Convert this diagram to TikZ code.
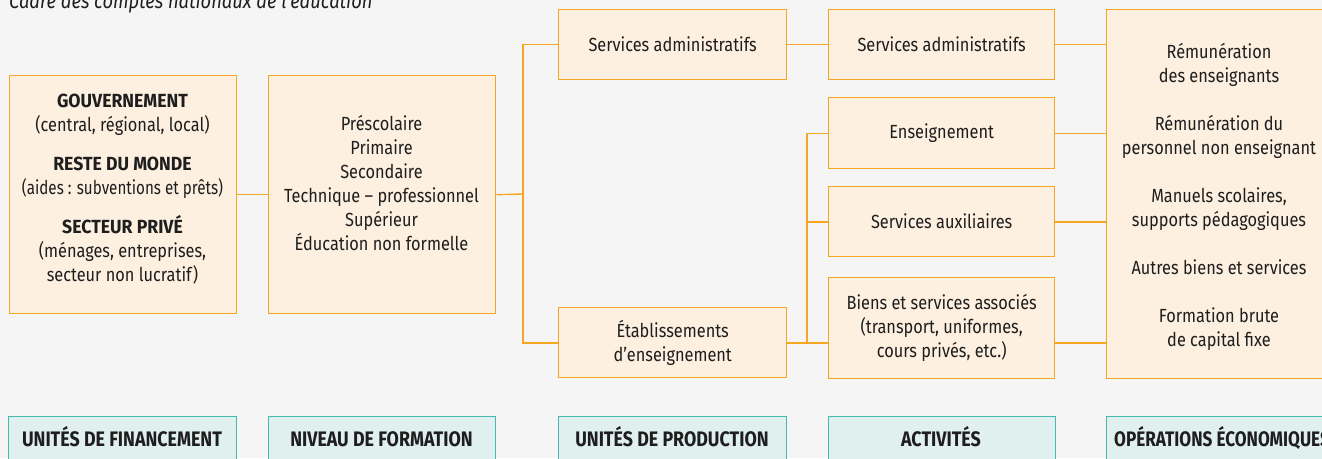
\documentclass[tikz,border=0pt]{standalone}
\usepackage{graphicx}
\usepackage{fontspec}
\setmainfont{Fira Sans}[FakeStretch=0.86]
\newfontfamily\lblfont{Fira Sans}[FakeStretch=0.85]
\newfontfamily\hdfont{Fira Sans}[FakeStretch=0.93]
\definecolor{bgcol}{HTML}{F5F5F5}
\definecolor{peach}{HTML}{FDF0E0}
\definecolor{orng}{HTML}{F5A623}
\definecolor{tealfill}{HTML}{E0F0EF}
\definecolor{tealline}{HTML}{45B8AF}
\definecolor{ink}{HTML}{1E1E1E}
\newcommand{\hd}[1]{{\hdfont\bfseries\fontsize{19}{24}\selectfont #1}}
\begin{document}
\begin{tikzpicture}[x=1pt,y=-1pt,
  obox/.style={draw=orng, fill=peach, line width=1.4pt, rectangle, inner sep=0pt, anchor=north west, text=ink, align=center, font=\fontsize{19}{24}\selectfont},
  lbox/.style={draw=tealline, fill=tealfill, line width=1.4pt, rectangle, inner sep=0pt, anchor=north west, minimum height=60pt},
  lbltxt/.style={text=ink, font=\lblfont\bfseries\fontsize{21}{24}\selectfont, inner sep=0pt},
  txt/.style={text=ink, align=center, inner sep=0pt, font=\fontsize{19}{24}\selectfont},
  conn/.style={draw=orng, line width=1.4pt}]
\useasboundingbox (0,0) rectangle (1322,458);
\clip (0,0) rectangle (1322,458);
\fill[bgcol] (0,0) rectangle (1322,458);

% title
\node[anchor=base west, inner sep=0pt, text=ink, font=\itshape\fontsize{21.3}{24}\selectfont] (title) at (9,8) {Cadre des comptes nationaux de l’éducation};

% column 1
\node[obox, minimum width=227pt, minimum height=238pt] (b1) at (9,75) {};
\node[txt] (b1t) at (122.5,189.5) {\hd{GOUVERNEMENT}\\(central, régional, local)\\[15pt]
\hd{RESTE DU MONDE}\\\scalebox{0.93}[1]{(aides : subventions et prêts)}\\[15pt]
\hd{SECTEUR PRIVÉ}\\(ménages, entreprises,\\secteur non lucratif)};

% column 2
\node[obox, minimum width=227pt, minimum height=238pt] (b2) at (268,75) {};
\node[txt] (b2t) at (381.5,183.5) {Préscolaire\\Primaire\\Secondaire\\Technique – professionnel\\Supérieur\\Éducation non formelle};

% column 3
\node[obox, minimum width=228pt, minimum height=70pt] (b3a) at (558,9) {Services administratifs};
\node[obox, minimum width=228pt, minimum height=70pt] (b3b) at (558,307) {Établissements\\d’enseignement};

% column 4
\node[obox, minimum width=226pt, minimum height=70pt] (b4a) at (828,9) {Services administratifs};
\node[obox, minimum width=226pt, minimum height=71pt] (b4b) at (828,97) {Enseignement};
\node[obox, minimum width=226pt, minimum height=70pt] (b4c) at (828,186) {Services auxiliaires};
\node[obox, minimum width=226pt, minimum height=101pt] (b4d) at (828,277) {Biens et services associés\\(transport, uniformes,\\cours privés, etc.)};

% column 5
\node[obox, minimum width=227pt, minimum height=369pt] (b5) at (1106,9) {};
\node[txt] (b5t) at (1219,196.5) {Rémunération\\des enseignants\\[24pt]Rémunération du\\personnel non enseignant\\[24pt]Manuels scolaires,\\supports pédagogiques\\[24pt]Autres biens et services\\[24pt]Formation brute\\de capital fixe};

% connectors
\coordinate (jA) at (523,194);
\coordinate (jB) at (807,343);
\draw[conn] (b1.east) -- (b2.west);
\draw[conn] (b2.east) -- (jA);
\draw[conn] (b3a.west) -| (jA) |- (b3b.west |- jB);
\draw[conn] (b3a.east) -- (b4a.west);
\draw[conn] (b3b.east |- jB) -- (b4d.west |- jB);
\draw[conn] (b4b.west) -| (jB);
\draw[conn] (b4c.west |- 0,222) -- (jB |- 0,222);
\draw[conn] (b4a.east) -- (b5.west |- b4a.east);
\draw[conn] (b4b.east) -- (b5.west |- b4b.east);
\draw[conn] (b4c.east |- 0,222) -- (b5.west |- 0,222);
\draw[conn] (b4d.east |- jB) -- (b5.west |- jB);

% bottom labels
\node[lbox, minimum width=228pt] (l1) at (8,416) {};
\node[lbox, minimum width=227pt] (l2) at (268,416) {};
\node[lbox, minimum width=228pt] (l3) at (558,416) {};
\node[lbox, minimum width=227pt] (l4) at (828,416) {};
\node[lbox, minimum width=227pt] (l5) at (1106,416) {};
\node[lbltxt, anchor=base] (l1t) at (122,446) {UNITÉS DE FINANCEMENT};
\node[lbltxt, anchor=base] (l2t) at (381.5,446) {NIVEAU DE FORMATION};
\node[lbltxt, anchor=base] (l3t) at (672,446) {UNITÉS DE PRODUCTION};
\node[lbltxt, anchor=base] (l4t) at (941,446) {ACTIVITÉS};
\node[lbltxt, anchor=base] (l5t) at (1222,446) {\scalebox{0.96}[1]{OPÉRATIONS ÉCONOMIQUES}};
\end{tikzpicture}
\end{document}
